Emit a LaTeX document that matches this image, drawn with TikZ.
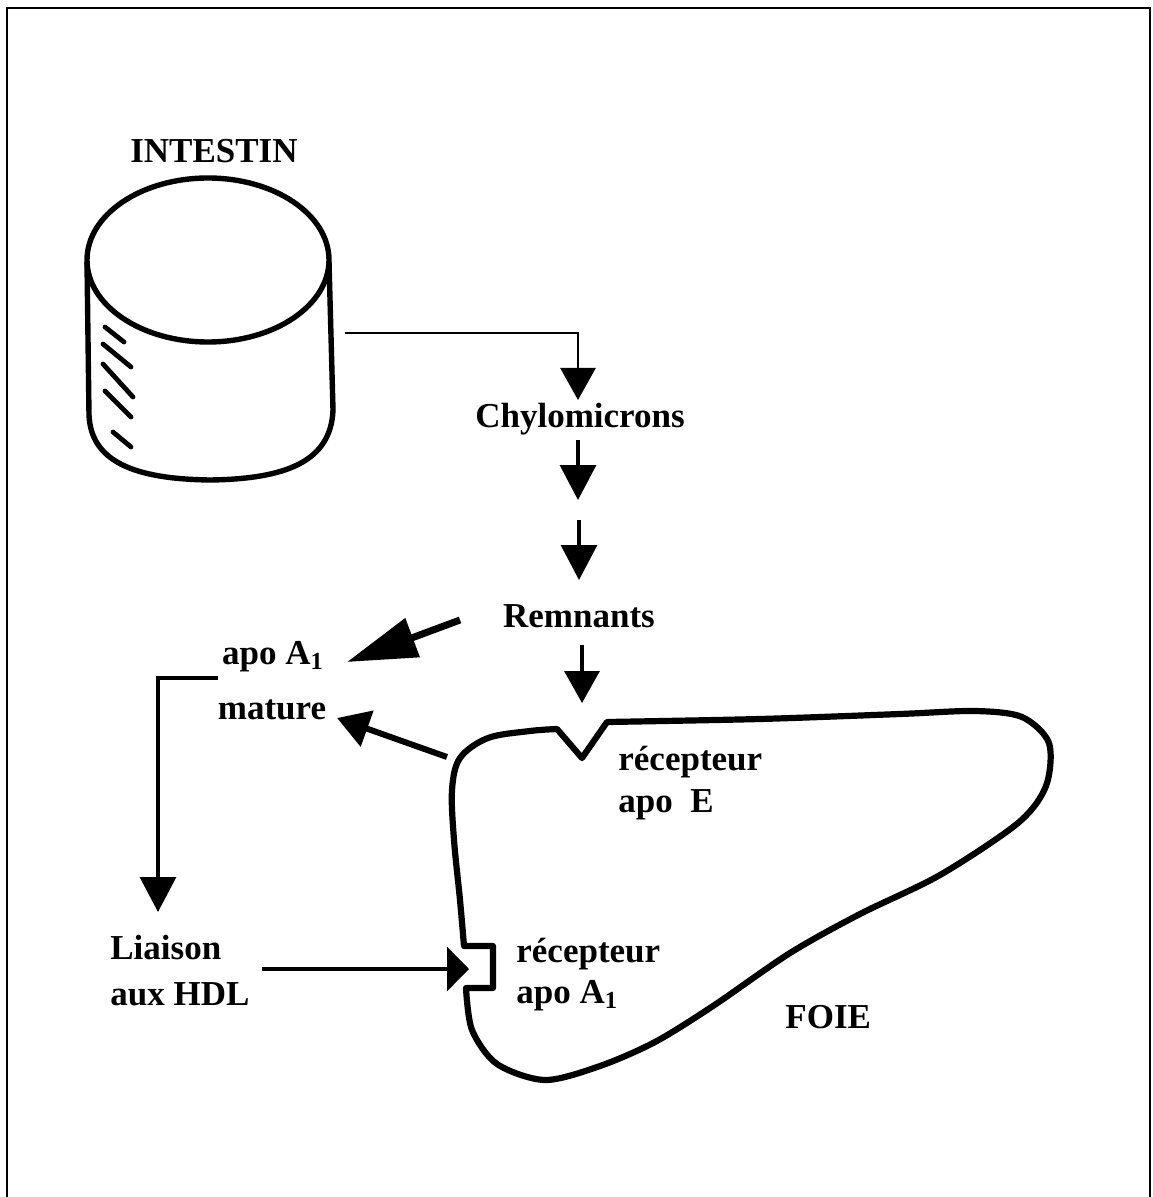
\documentclass[tikz,border=0pt]{standalone}
\usepackage{fontspec}
\setmainfont{Liberation Serif}
\usetikzlibrary{arrows.meta}
\begin{document}
\begin{tikzpicture}[x=0.5pt,y=-0.5pt,
  lbl/.style={font=\fontsize{17.5}{21}\selectfont\bfseries, inner sep=0pt},
  frameline/.style={line width=1.1pt},
  organ/.style={line width=2.7pt, line join=round},
  liverline/.style={line width=3.1pt, line join=round},
  hatch/.style={line width=2.4pt, line cap=round},
  conn/.style={line width=1.6pt},
  thin/.style={line width=1.3pt},
  tipA/.style={-{Triangle[length=16pt,width=17.5pt]}},
  tipB/.style={-{Triangle[length=17.5pt,width=18pt]}},
  tipC/.style={-{Triangle[length=11pt,width=22pt]}},
  fatA/.style={line width=3.5pt, -{Triangle[length=35pt,width=20pt]}},
  fatB/.style={line width=3pt, -{Triangle[length=16pt,width=18.5pt]}}
]
\useasboundingbox (0,0) rectangle (1152,1197);
% frame
\draw[frameline] (7,1197) -- (7,8) -- (1150,8) -- (1150,1197);

% intestine cylinder
\node[lbl, anchor=base] (intestin) at (214,163) {INTESTIN};
\draw[organ] (208,260) ellipse [x radius=121, y radius=82];
\draw[organ] (87,262) -- (89,415) .. controls (91,462) and (135,479) .. (210,480)
  .. controls (285,479) and (331,462) .. (333,410) -- (329,262);
\draw[hatch] (105,327) -- (124,342);
\draw[hatch] (103,344) -- (131,367);
\draw[hatch] (103,364) -- (133,397);
\draw[hatch] (105,391) -- (131,417);
\draw[hatch] (113,432) -- (131,447);

% liver
\draw[liverline] (582,758) -- (607,722)
 -- plot[smooth, tension=0.5] coordinates {(607,722) (760,719) (900,714) (975,711) (1022,717) (1049,743) (1046,786) (1018,823) (940,875) (860,914) (790,953) (713,1006) (655,1042) (600,1066) (545,1080) (497,1064) (472,1030) (466,988)}
 -- (493,988) -- (493,946) -- (464,946)
 -- plot[smooth, tension=0.55] coordinates {(464,946) (460,900) (454,840) (452,790) (460,758) (488,738) (530,731) (557,729)}
 -- cycle;

% labels
\node[lbl, anchor=base] (chylo) at (580,428) {Chylomicrons};
\node[lbl, anchor=base] (remn) at (579,627) {Remnants};
\node[lbl, anchor=base] (apoa) at (273,664) {apo A\textsubscript{1}};
\node[lbl, anchor=base] (mature) at (272,719) {mature};
\node[lbl, anchor=base west] (recE1) at (618,770) {récepteur};
\node[lbl, anchor=base west] (recE2) at (618,812) {apo~~E};
\node[lbl, anchor=base west] (recA1) at (516,962) {récepteur};
\node[lbl, anchor=base west] (recA2) at (516,1003) {apo A\textsubscript{1}};
\node[lbl, anchor=base west] (liaison) at (110,959) {Liaison};
\node[lbl, anchor=base west] (auxhdl) at (110,1005) {aux HDL};
\node[lbl, anchor=base west] (foie) at (785,1028) {FOIE};

% connector end points
\coordinate (cylOut) at (345,333);
\coordinate (chyIn) at (578,400);
\coordinate (chyOut) at (578,440);
\coordinate (midTip) at (578,500);
\coordinate (midTail) at (579,520);
\coordinate (remIn) at (579,580);
\coordinate (remOut) at (582,645);
\coordinate (recE) at (582,703);
\coordinate (remSide) at (460,620);
\coordinate (apoIn) at (347,662);
\coordinate (liverTL) at (447,757);
\coordinate (matIn) at (337,718);
\coordinate (apoLeft) at (218,678);
\coordinate (liaIn) at (158,912);
\coordinate (hdlOut) at (262,969);
\coordinate (recA) at (469,969);

% connectors
\draw[thin, tipA] (cylOut) -| (chyIn);
\draw[conn, tipB] (chyOut) -- (midTip);
\draw[conn, tipB] (midTail) -- (remIn);
\draw[conn, tipA] (remOut) -- (recE);
\draw[fatA] (remSide) -- (apoIn);
\draw[fatB] (liverTL) -- (matIn);
\draw[conn, tipB] (apoLeft) -| (liaIn);
\draw[conn, tipC] (hdlOut) -- (recA);
\end{tikzpicture}
\end{document}
